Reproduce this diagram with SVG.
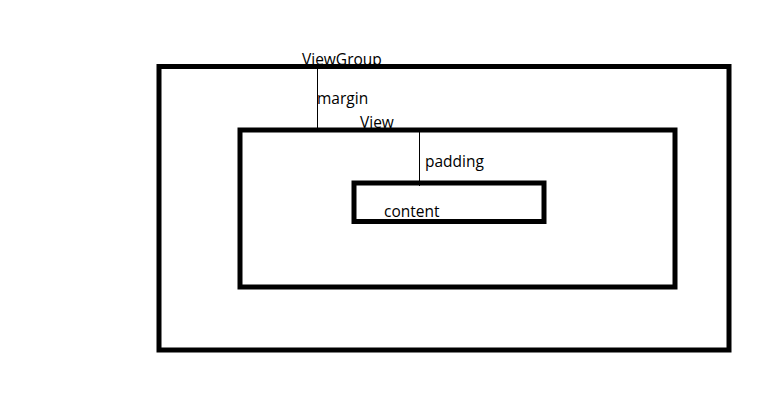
<svg xmlns="http://www.w3.org/2000/svg" width="772" height="411" viewBox="0 0 772 411">
<style>
.t{font-family:"Open Sans","Noto Sans",sans-serif;font-size:15.5px;fill:#000}
.box{fill:none;stroke:#000;stroke-width:5}
.ln{stroke:#000;stroke-width:1}
</style>
<rect width="772" height="411" fill="#fff"/>
<g id="labels">
<text class="t" x="302" y="65">ViewGroup</text>
<text class="t" x="317" y="104">margin</text>
<text class="t" x="360" y="128">View</text>
<text class="t" x="425" y="167">padding</text>
<text class="t" x="384" y="217">content</text>
</g>
<g id="connectors">
<line class="ln" x1="317.5" y1="66" x2="317.5" y2="130"/>
<line class="ln" x1="419.5" y1="130" x2="419.5" y2="186"/>
</g>
<g id="viewgroup"><rect class="box" x="159" y="66.5" width="570" height="283.5"/></g>
<g id="view"><rect class="box" x="240" y="130" width="435" height="157"/></g>
<g id="content"><rect class="box" x="354" y="183" width="190" height="38.5"/></g>
</svg>
